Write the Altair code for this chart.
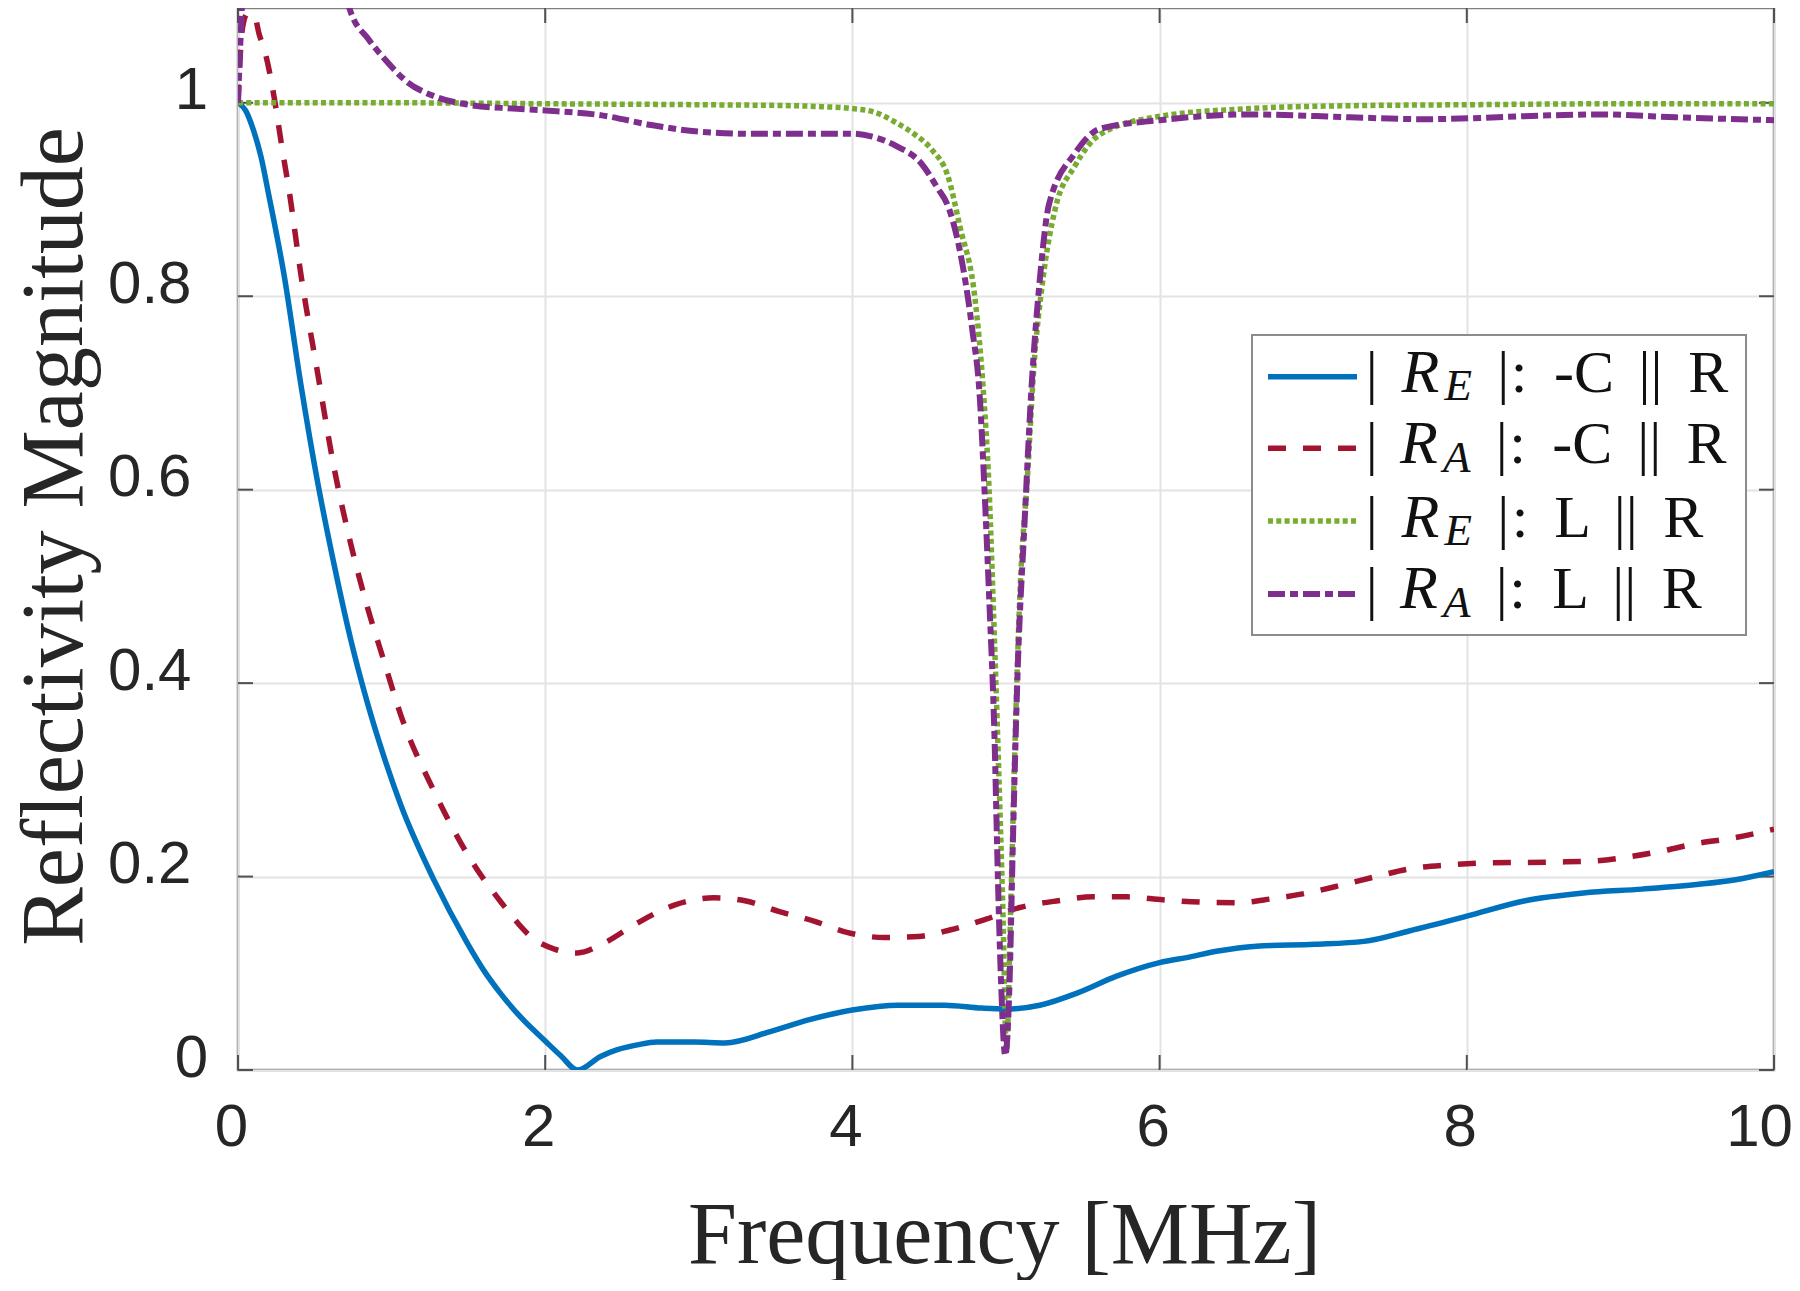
import altair as alt
import pandas as pd

# ---------------- data ----------------
freq_re_c = [0, 0.05, 0.1, 0.15, 0.2, 0.3, 0.41, 0.517, 0.625, 0.734, 0.84, 0.95, 1.06, 1.277,
             1.49, 1.6, 1.71, 1.85, 2.0, 2.1, 2.21, 2.36, 2.47, 2.6, 2.725, 2.97, 3.17, 3.47, 3.72,
             4.0, 4.3, 4.6, 4.84, 5.0, 5.22, 5.47, 5.72, 6.0, 6.2, 6.38, 6.63, 7.01, 7.33, 7.63,
             8.0, 8.38, 8.76, 9.14, 9.51, 9.76, 10.0]
re_c = [1.0, 0.992, 0.972, 0.944, 0.905, 0.822, 0.708, 0.609, 0.523, 0.445, 0.381, 0.324, 0.274,
        0.196, 0.132, 0.103, 0.079, 0.053, 0.030, 0.015, 0.0, 0.014, 0.021, 0.026, 0.029, 0.029,
        0.028, 0.040, 0.052, 0.062, 0.067, 0.067, 0.064, 0.063, 0.067, 0.080, 0.097, 0.111,
        0.117, 0.123, 0.128, 0.130, 0.133, 0.144, 0.159, 0.175, 0.183, 0.187, 0.192, 0.197, 0.205]

freq_ra_c = [0, 0.015, 0.03, 0.06, 0.107, 0.136, 0.18, 0.235, 0.289, 0.332, 0.41, 0.517, 0.625,
             0.734, 0.84, 0.95, 1.06, 1.277, 1.49, 1.71, 1.93, 2.06, 2.21, 2.38, 2.6, 2.85, 3.1,
             3.3, 3.52, 3.75, 3.97, 4.21, 4.43, 4.64, 4.87, 5.09, 5.34, 5.57, 5.79, 6.02, 6.21,
             6.5, 6.73, 6.96, 7.18, 7.41, 7.63, 7.88, 8.11, 8.57, 8.81, 9.04, 9.26, 9.49, 9.74, 10.0]
ra_c = [1.0, 1.05, 1.078, 1.092, 1.09, 1.072, 1.05, 1.006, 0.951, 0.91, 0.822, 0.722, 0.623,
        0.544, 0.48, 0.423, 0.367, 0.288, 0.224, 0.174, 0.135, 0.125, 0.121, 0.131, 0.152, 0.171,
        0.178, 0.175, 0.164, 0.154, 0.142, 0.137, 0.138, 0.145, 0.156, 0.168, 0.175, 0.179, 0.179,
        0.176, 0.174, 0.173, 0.177, 0.183, 0.191, 0.2, 0.208, 0.212, 0.214, 0.215, 0.216, 0.22,
        0.226, 0.234, 0.24, 0.249]

freq_re_l = [0, 1, 2, 3, 3.6, 3.8, 4.0, 4.15, 4.29, 4.4, 4.52, 4.62, 4.70, 4.80, 4.85, 4.89, 4.92,
             4.95, 4.98, 5.003, 5.03, 5.06, 5.09, 5.14, 5.18, 5.24, 5.32, 5.45, 5.61, 6.0, 6.59,
             7.24, 8.0, 9.0, 10.0]
re_l = [1.0, 1.0, 0.999, 0.998, 0.997, 0.996, 0.994, 0.99, 0.979, 0.968, 0.951, 0.925, 0.872,
        0.795, 0.708, 0.60, 0.468, 0.323, 0.163, 0.02, 0.163, 0.345, 0.49, 0.614, 0.723, 0.817,
        0.89, 0.935, 0.967, 0.986, 0.994, 0.997, 0.998, 0.999, 0.999]

freq_ra_l = [0, 0.012, 0.025, 0.04, 0.1, 0.25, 0.45, 0.6, 0.723, 0.853, 0.962, 1.09, 1.29, 1.5,
             1.79, 2.0, 2.37, 2.69, 3.01, 3.33, 3.65, 4.0, 4.13, 4.29, 4.45, 4.55, 4.63, 4.72,
             4.78, 4.83, 4.86, 4.89, 4.925, 4.947, 4.968, 4.995, 5.023, 5.045, 5.077, 5.12, 5.164,
             5.22, 5.28, 5.45, 5.61, 6.0, 6.59, 7.24, 7.73, 8.02, 8.54, 8.87, 9.36, 10.0]
ra_l = [1.0, 1.05, 1.1, 1.2, 1.6, 1.7, 1.4, 1.2, 1.099, 1.065, 1.044, 1.023, 1.006, 0.998, 0.994,
        0.992, 0.987, 0.977, 0.97, 0.968, 0.968, 0.968, 0.965, 0.955, 0.937, 0.913, 0.89, 0.83,
        0.766, 0.694, 0.60, 0.49, 0.345, 0.2, 0.09, 0.015, 0.09, 0.236, 0.418, 0.563, 0.70, 0.817,
        0.895, 0.948, 0.973, 0.982, 0.988, 0.985, 0.983, 0.984, 0.987, 0.988, 0.985, 0.982]

x_ticks = [0, 2, 4, 6, 8, 10]
y_ticks = [0, 0.2, 0.4, 0.6, 0.8, 1.0]

# legend text pieces
leg_main = ["R", "R", "R", "R"]
leg_sub = ["E", "A", "E", "A"]
leg_circuit = ["-C", "-C", "L", "L"]
leg_par = "||"
leg_end = "R"

# ---------------- styling / layout ----------------
W, H = 1536, 1062
Y_MAX = 1.098
LEFT = 238          # page x of plot left edge
TOP = 8             # page y of plot top edge
TEXT = "#262626"

series_styles = [
    (freq_re_c, re_c, "#0072BD", [1, 0], 5.5),
    (freq_ra_c, ra_c, "#A2142F", [18, 17], 5.5),
    (freq_re_l, re_l, "#77AC30", [5, 3.3], 5.5),
    (freq_ra_l, ra_l, "#7E2F8E", [17, 5, 8, 5], 6),
]

x_enc = alt.X(
    "f:Q",
    scale=alt.Scale(domain=[0, 10], nice=False, zero=False),
    axis=alt.Axis(values=x_ticks, format="d", title="Frequency [MHz]",
                  labelFlush=False, labelOverlap=False, labelPadding=75,
                  labelBaseline="alphabetic",
                  labelOffset={"condition": {"test": "datum.value == 10", "value": -15},
                               "value": -7},
                  titleX=766, titleY=192, titleAlign="center", titleBaseline="alphabetic"),
)
y_enc = alt.Y(
    "v:Q",
    scale=alt.Scale(domain=[0, Y_MAX], nice=False, zero=False),
    axis=alt.Axis(values=y_ticks, format="~g", title="Reflectivity Magnitude",
                  labelOverlap=False, labelPadding=47, labelBaseline="alphabetic", labelOffset=6,
                  labelAlign={"condition": {"test": "datum.value == 0 || datum.value == 1",
                                            "value": "center"},
                              "value": "right"},
                  titleAngle=-90, titleX=-157, titleY=528, titleAlign="center",
                  titleBaseline="alphabetic"),
)

layers = []

# inward ticks (MATLAB style), through the scales
xt = pd.DataFrame({"f": x_ticks})
yt = pd.DataFrame({"v": y_ticks})
TL = 15
tick_col = "#505050"
layers.append(alt.Chart(xt).mark_rule(color=tick_col, strokeWidth=2).encode(
    x=x_enc, y=alt.value(H), y2=alt.value(H - TL)))
layers.append(alt.Chart(xt).mark_rule(color=tick_col, strokeWidth=2).encode(
    x=x_enc, y=alt.value(0), y2=alt.value(TL)))
layers.append(alt.Chart(yt).mark_rule(color=tick_col, strokeWidth=2).encode(
    y=y_enc, x=alt.value(0), x2=alt.value(TL)))
layers.append(alt.Chart(yt).mark_rule(color=tick_col, strokeWidth=2).encode(
    y=y_enc, x=alt.value(W), x2=alt.value(W - TL)))

# data lines
for fr, vals, col, dash, sw in series_styles:
    df = pd.DataFrame({"f": fr, "v": vals})
    kw = dict(color=col, strokeWidth=sw, clip=True, interpolate="monotone")
    if dash != [1, 0]:
        kw["strokeDash"] = dash
    layers.append(alt.Chart(df).mark_line(**kw).encode(x=x_enc, y=y_enc))

# legend (box, samples, text)
one = pd.DataFrame({"k": [0]})
layers.append(alt.Chart(one).mark_rect(fill="white", stroke="#8c8c8c", strokeWidth=2).encode(
    x=alt.value(1252 - LEFT), x2=alt.value(1746 - LEFT),
    y=alt.value(335 - TOP), y2=alt.value(635 - TOP)))

row_line_y = [376.7, 448.3, 521, 594]
row_base_y = [391.7, 463.3, 536.7, 608.3]
bar1_x = [1371.7, 1371.7, 1371.7, 1371.7]
r_x = [1420.5, 1419, 1420.5, 1419]
sub_x = [1458.3, 1456.7, 1458.3, 1456.7]
bar2_x = [1503.3, 1501.7, 1503.3, 1501.7]
colon_x = [1519, 1517.5, 1520, 1517.5]
circ_x = [1584, 1582.3, 1572.5, 1570.5]
par_x = [1650.5, 1649.2, 1625.8, 1624.2]
end_x = [1708.3, 1706.5, 1683.3, 1681.7]

LEG_COL = "#111111"
for i, (fr, vals, col, dash, sw) in enumerate(series_styles):
    kw = dict(color=col, strokeWidth=sw)
    if dash != [1, 0]:
        kw["strokeDash"] = dash
    layers.append(alt.Chart(one).mark_rule(**kw).encode(
        x=alt.value(1268 - LEFT), x2=alt.value(1357 - LEFT), y=alt.value(row_line_y[i] - TOP)))

    by = row_base_y[i] - TOP
    pieces = [
        ("|", bar1_x[i], by, 60, "normal"),
        (leg_main[i], r_x[i], by, 62, "italic"),
        (leg_sub[i], sub_x[i], by + 8.3, 45, "italic"),
        ("|", bar2_x[i], by, 60, "normal"),
        (":", colon_x[i], by, 60, "normal"),
        (leg_circuit[i], circ_x[i], by, 60, "normal"),
        (leg_par, par_x[i], by, 60, "normal"),
        (leg_end, end_x[i], by, 60, "normal"),
    ]
    for txt, px, py, fs, style in pieces:
        layers.append(alt.Chart(one).mark_text(
            font="Liberation Serif", fontSize=fs, fontStyle=style, align="center",
            baseline="alphabetic", color=LEG_COL).encode(
            x=alt.value(px - LEFT), y=alt.value(py), text=alt.value(txt)))

chart = alt.layer(*layers).properties(
    width=W, height=H,
    padding={"left": LEFT - 8, "top": TOP - 8, "right": 18, "bottom": 210},
    autosize=alt.AutoSizeParams(type="none"),
).configure_view(
    stroke="#7f7f7f", strokeWidth=2.5
).configure_axis(
    labelFont="Liberation Sans", labelFontSize=60, labelColor=TEXT,
    titleFont="Liberation Serif", titleFontSize=88, titleFontWeight="normal", titleColor=TEXT,
    grid=True, gridColor="#e3e3e3", gridWidth=2, ticks=False, domain=False,
)

chart.save("out.html", embed_options={"renderer": "svg", "actions": False})
